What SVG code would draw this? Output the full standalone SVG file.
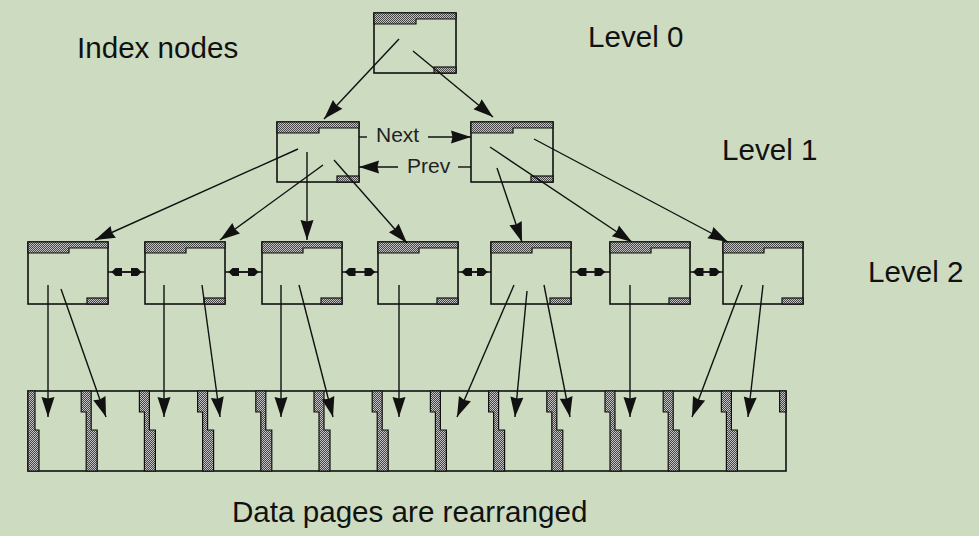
<svg xmlns="http://www.w3.org/2000/svg" xmlns:xlink="http://www.w3.org/1999/xlink" width="979" height="536" viewBox="0 0 979 536">
<style>
.bg{fill:#cddcc1}
.box{fill:none;stroke:#111;stroke-width:1.6}
.sh{fill:url(#dots);stroke:#111;stroke-width:1.2}
.lbl{font-family:"Liberation Sans",Arial,sans-serif;font-size:29.6px;fill:#111}
.sm{font-family:"Liberation Sans",Arial,sans-serif;font-size:21px;fill:#222}
.ln{fill:none;stroke:#111;stroke-width:1.4}
.arr{fill:none;stroke:#111;stroke-width:1.4;marker-end:url(#ah)}
.dbl{fill:none;stroke:#111;stroke-width:1.4;marker-start:url(#sa);marker-end:url(#sa)}
</style>
<defs>
<pattern id="dots" width="2" height="2" patternUnits="userSpaceOnUse">
<rect width="2" height="2" fill="#444"/>
<rect width="1" height="1" fill="#c4c4c4"/>
<rect x="1" y="1" width="1" height="1" fill="#c4c4c4"/>
</pattern>
<marker id="ah" viewBox="-22 -8 24 16" markerWidth="24" markerHeight="16" refX="0" refY="0" orient="auto" markerUnits="userSpaceOnUse">
<path d="M0,0 L-20,-6.5 L-18.5,0 L-20,6.5 Z" fill="#111"/>
</marker>
<marker id="sa" viewBox="-12 -5 14 10" markerWidth="14" markerHeight="10" refX="0" refY="0" orient="auto-start-reverse" markerUnits="userSpaceOnUse">
<path d="M0,0 L-4,-4 L-10.5,-4 L-10.5,4 L-4,4 Z" fill="#111"/>
</marker>
<g id="nA">
<rect class="box" x="0" y="0" width="82" height="60"/>
<path class="sh" d="M0,0 H82 V6 H42 V11 H0 Z"/>
<rect class="sh" x="60" y="54" width="22" height="6"/>
</g>
<g id="nB">
<rect class="box" x="0" y="0" width="80" height="62"/>
<path class="sh" d="M0,0 H80 V6 H41 V11 H0 Z"/>
<rect class="sh" x="59" y="56" width="21" height="6"/>
</g>
</defs>
<rect class="bg" x="0" y="0" width="979" height="536"/>

<g id="labels">
<text class="lbl" x="77" y="58">Index nodes</text>
<text class="lbl" x="588" y="47">Level 0</text>
<text class="lbl" x="722" y="160">Level 1</text>
<text class="lbl" x="868" y="282">Level 2</text>
<text class="lbl" x="232" y="522">Data pages are rearranged</text>
</g>

<g id="root"><use xlink:href="#nA" href="#nA" x="374" y="13"/></g>
<g id="l1a"><use xlink:href="#nA" href="#nA" x="277" y="122"/></g>
<g id="l1b"><use xlink:href="#nA" href="#nA" x="471" y="122"/></g>
<g id="l2a"><use xlink:href="#nB" href="#nB" x="28" y="242"/></g>
<g id="l2b"><use xlink:href="#nB" href="#nB" x="145" y="242"/></g>
<g id="l2c"><use xlink:href="#nB" href="#nB" x="262" y="242"/></g>
<g id="l2d"><use xlink:href="#nB" href="#nB" x="378" y="242"/></g>
<g id="l2e"><use xlink:href="#nB" href="#nB" x="491" y="242"/></g>
<g id="l2f"><use xlink:href="#nB" href="#nB" x="610" y="242"/></g>
<g id="l2g"><use xlink:href="#nB" href="#nB" x="723" y="242"/></g>

<g id="pages">
<rect class="box" x="28" y="391" width="758" height="80"/>
<path class="sh" d="M28,391 H35 V430 H39 V471 H28 Z"/>
<path class="sh" d="M81.2,391 H91.2 V430 H97.2 V471 H86.2 V412 H81.2 Z"/>
<path class="sh" d="M139.4,391 H149.4 V430 H155.4 V471 H144.4 V412 H139.4 Z"/>
<path class="sh" d="M197.6,391 H207.6 V430 H213.6 V471 H202.6 V412 H197.6 Z"/>
<path class="sh" d="M255.8,391 H265.8 V430 H271.8 V471 H260.8 V412 H255.8 Z"/>
<path class="sh" d="M314,391 H324 V430 H330 V471 H319 V412 H314 Z"/>
<path class="sh" d="M372.2,391 H382.2 V430 H388.2 V471 H377.2 V412 H372.2 Z"/>
<path class="sh" d="M430.4,391 H440.4 V430 H446.4 V471 H435.4 V412 H430.4 Z"/>
<path class="sh" d="M488.6,391 H498.6 V430 H504.6 V471 H493.6 V412 H488.6 Z"/>
<path class="sh" d="M546.8,391 H556.8 V430 H562.8 V471 H551.8 V412 H546.8 Z"/>
<path class="sh" d="M605,391 H615 V430 H621 V471 H610 V412 H605 Z"/>
<path class="sh" d="M663.2,391 H673.2 V430 H679.2 V471 H668.2 V412 H663.2 Z"/>
<path class="sh" d="M721.4,391 H731.4 V430 H737.4 V471 H726.4 V412 H721.4 Z"/>
<path class="sh" d="M779.6,391 H786 V412 H779.6 Z"/>
</g>

<g id="connectors">
<path class="arr" d="M399,39 L324,119"/>
<path class="arr" d="M413,51 L493,117"/>
<path class="ln" d="M359,137 H367"/>
<path class="arr" d="M428,137 H471"/>
<path class="ln" d="M471,167 H458"/>
<path class="arr" d="M398,167 H359"/>
<text class="sm" x="376" y="142">Next</text>
<text class="sm" x="407" y="173">Prev</text>
<path class="arr" d="M298,149 L95,240"/>
<path class="arr" d="M307,152 V240"/>
<path class="arr" d="M323,165 L220,240"/>
<path class="arr" d="M334,160 L407,243"/>
<path class="arr" d="M497,168 L522,242"/>
<path class="arr" d="M490,147 L632,242"/>
<path class="arr" d="M534,139 L728,242"/>
<path class="ln" d="M108,272 H145 M225,272 H262 M342,272 H378 M458,272 H491 M571,272 H610 M690,272 H723"/>
<path class="dbl" d="M111.5,272 H141.5"/>
<path class="dbl" d="M228.5,272 H258.5"/>
<path class="dbl" d="M345,272 H375"/>
<path class="dbl" d="M461.5,272 H487.5"/>
<path class="dbl" d="M576,272 H605"/>
<path class="dbl" d="M693,272 H720"/>
<path class="arr" d="M48,285 V417"/>
<path class="arr" d="M61,289 L106,417"/>
<path class="arr" d="M164,285 V417"/>
<path class="arr" d="M202,285 L220,417"/>
<path class="arr" d="M281,285 V417"/>
<path class="arr" d="M299,285 L333,417"/>
<path class="arr" d="M399,285 V417"/>
<path class="arr" d="M514,285 L457,417"/>
<path class="arr" d="M527,291 L515,417"/>
<path class="arr" d="M544,285 L570,417"/>
<path class="arr" d="M630,285 V417"/>
<path class="arr" d="M742,285 L692,417"/>
<path class="arr" d="M763,285 L748,417"/>
</g>
</svg>
